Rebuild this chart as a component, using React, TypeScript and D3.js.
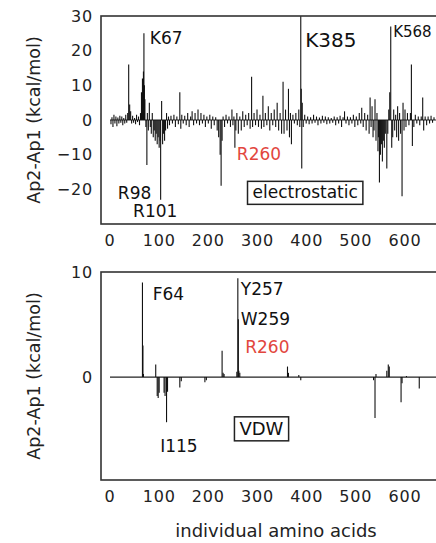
import React, { useEffect, useRef } from 'react';
import * as d3 from 'd3';

// electrostatic contribution per residue [residue, kcal/mol]
const elecBars: [number, number][] = [
  [2,-1.2],[4,0.8],[6,-2],[8,1.5],[10,-1],[12,1],[14,-1.8],[16,0.7],[18,-1],[20,1.2],[22,-0.8],[24,1],
  [26,-1.5],[28,0.6],[30,-1],[32,1.5],[34,-0.8],[36,2],[38,16],[40,4.5],[42,2.5],[44,-1],[46,1.2],[48,-0.8],
  [50,0.6],[52,-1.2],[54,1.5],[56,-0.6],[58,1],[60,-1.5],[62,2],[64,8],[66,12],[68,14],[69,25],[70,10],
  [71,6],[73,-2],[75,-13],[76,2],[78,-3],[80,5],[82,-2],[84,-4],[86,2],[88,-5],[90,-3],[92,-6],[94,-4],
  [96,-7],[98,-5],[100,-8],[102,-6],[103,-23],[105,5.5],[107,-7],[109,-4],[111,-6],[113,-3],[115,2],
  [117,-2.5],[119,1],[121,-1.5],[124,1.2],[127,-1],[130,1.5],[133,-2],[136,1],[139,-1.2],[142,8],[144,-2.5],
  [146,1.5],[149,-1],[152,1.2],[155,-1.5],[158,2],[161,-2],[164,1],[167,2.5],[170,-1.5],[173,2],[176,-1],
  [179,3],[182,-1.5],[185,2],[188,-1],[191,1.5],[194,-2],[197,1],[200,-1],[203,1.5],[206,-2.5],[209,1],
  [212,-1.5],[215,0.8],[218,-3],[221,-5],[224,-10],[226,-19],[228,-6],[230,1],[233,-2],[236,1.5],[239,-1],
  [242,1],[245,-2],[248,3],[250,-1.5],[252,1],[254,-8],[256,-3],[258,2],[261,-4],[264,1],[267,-3],[270,2.5],
  [273,-2],[276,1.5],[279,-1.5],[282,2],[285,-2.5],[288,12.5],[290,-2],[293,2],[296,-1.5],[299,3],[302,-2],
  [305,1.5],[308,-2.5],[311,7],[313,-2],[316,2],[319,-1.5],[322,4],[325,-3],[328,2],[331,-1.5],[334,3],
  [337,-2],[340,5],[343,-3],[346,2],[349,-4],[352,11],[354,-4],[357,3],[360,-3],[363,9],[365,-5],[367,2],
  [369,-7],[372,1.5],[375,-1],[378,2],[381,-1.5],[384,3],[386,-2],[388,30],[389,9],[390,-14],[391,5],
  [393,-2],[396,1.5],[399,-1],[402,1],[405,-1.2],[408,0.8],[411,-1],[414,1.5],[417,-0.8],[420,1],[423,-1.5],
  [426,0.7],[429,-1],[432,1.2],[435,-0.8],[438,1],[441,-1.2],[444,0.8],[447,-1],[450,0.6],[453,-0.8],[456,1],
  [459,-1.5],[462,0.8],[465,-1],[468,1.2],[471,-2],[474,0.8],[477,2.5],[480,-1],[483,1],[486,-1.5],[489,0.8],
  [492,-1],[495,1.5],[498,-2],[501,1],[504,-1.5],[507,2],[510,-1],[512,3.5],[515,-2],[518,2],[521,-3],
  [524,1.5],[527,-4],[529,6.5],[531,-2],[533,4],[535,-5],[537,-3],[539,6],[541,-6],[543,2],[545,-9],[546,-5],
  [548,-18],[550,-10],[552,-7],[554,-12],[556,-6],[558,-8],[560,-4],[563,-14],[565,-4],[567,3],[569,8],
  [571,27],[573,-8],[575,-5],[577,3],[579,-3],[581,1.5],[583,-5],[585,4],[587,-6],[589,2],[591,-4],[594,-22],
  [596,5],[598,-3],[600,3],[602,-2],[605,2],[608,-1.5],[611,2],[613,16],[615,-7.5],[618,-2],[621,1.5],
  [624,-1],[627,1],[630,-1.5],[633,1],[636,6.5],[638,-3],[641,1],[644,-1.5],[647,1],[650,-1],[653,1.2],
  [656,-0.8],[659,0.8],
];

// van der Waals contribution per residue [residue, kcal/mol]
const vdwBars: [number, number][] = [
  [66,9.0],[67,3.0],[68,0.3],[93,1.2],[96,-1.8],[98,-2.0],[100,-1.5],[110,-1.5],[112,-1.8],[115,-4.3],
  [117,-1.4],[142,-1.0],[145,-0.4],[193,-0.5],[196,-0.3],[228,2.5],[230,0.4],[232,0.3],[258,0.5],[260,9.4],
  [261,5.5],[262,0.6],[264,0.4],[361,1.0],[363,0.4],[384,0.2],[388,-0.3],[536,-0.3],[539,-3.9],[541,0.3],
  [563,0.6],[566,1.2],[568,1.0],[592,-2.4],[594,-0.6],[603,0.1],[629,-1.1],
];

const xTicks = [0, 100, 200, 300, 400, 500, 600];
const elecYTicks = [30, 20, 10, 0, -10, -20];
const vdwYTicks = [10, 0];

// residue labels: [text, residue, value, red?, size]
const elecLabels: [string, number, number, boolean, number][] = [
  ['K67', 81, 21.8, false, 17],
  ['K385', 397, 21, false, 20],
  ['K568', 576, 24, false, 15],
  ['R98', 16, -22.9, false, 17],
  ['R101', 47, -28, false, 17],
  ['R260', 258, -11.6, true, 17],
];
const vdwLabels: [string, number, number, boolean, number][] = [
  ['F64', 87, 7.3, false, 17],
  ['Y257', 266, 7.8, false, 17],
  ['W259', 266, 5.0, false, 17],
  ['R260', 275, 2.3, true, 17],
  ['I115', 102, -7.1, false, 17],
];

const FONT = '"DejaVu Sans", Verdana, sans-serif';

export default function App() {
  const svgRef = useRef<SVGSVGElement>(null);

  useEffect(() => {
    const svg = d3.select(svgRef.current);
    svg.selectAll('*').remove();

    const x = d3.scaleLinear().domain([0, 600]).range([110, 405]);
    const left = 101, right = 446;

    const panel = (top: number, bottom: number, domain: [number, number], bars: [number, number][],
      yTicks: number[], labels: [string, number, number, boolean, number][], boxText: string,
      boxAt: [number, number], boxSize: number) => {
      const y = d3.scaleLinear().domain(domain).range([bottom, top]);
      const g = svg.append('g');

      // zero line
      g.append('line')
        .attr('x1', x(0)).attr('x2', right)
        .attr('y1', y(0)).attr('y2', y(0))
        .attr('stroke', '#222').attr('stroke-width', 1.2);

      g.selectAll('line.bar')
        .data(bars)
        .join('line')
        .attr('class', 'bar')
        .attr('x1', d => x(d[0])).attr('x2', d => x(d[0]))
        .attr('y1', y(0)).attr('y2', d => y(Math.min(d[1], domain[1])))
        .attr('stroke', '#111').attr('stroke-width', 1.1);

      // frame
      g.append('rect')
        .attr('x', left).attr('y', top)
        .attr('width', right - left).attr('height', bottom - top)
        .attr('fill', 'none').attr('stroke', '#333').attr('stroke-width', 1.6);

      g.selectAll('text.ytick')
        .data(yTicks)
        .join('text')
        .attr('class', 'ytick')
        .attr('x', 93).attr('y', d => y(d))
        .attr('dy', '0.36em')
        .attr('text-anchor', 'end')
        .attr('font-size', 16).attr('letter-spacing', 0.8)
        .attr('fill', '#222')
        .text(d => (d < 0 ? '\u2212' + Math.abs(d) : String(d)));

      g.selectAll('text.xtick')
        .data(xTicks)
        .join('text')
        .attr('class', 'xtick')
        .attr('x', d => x(d)).attr('y', bottom + 22)
        .attr('text-anchor', 'middle')
        .attr('font-size', 16).attr('letter-spacing', 0.8)
        .attr('fill', '#222')
        .text(d => d);

      g.append('text')
        .attr('transform', `translate(40,${(top + bottom) / 2}) rotate(-90)`)
        .attr('text-anchor', 'middle')
        .attr('font-size', 17.5)
        .attr('fill', '#222')
        .text('Ap2-Ap1 (kcal/mol)');

      g.selectAll('text.lab')
        .data(labels)
        .join('text')
        .attr('class', 'lab')
        .attr('x', d => x(d[1])).attr('y', d => y(d[2]))
        .attr('font-size', d => d[4])
        .attr('fill', d => (d[3] ? '#e2463e' : '#111'))
        .text(d => d[0]);

      const bt = g.append('text')
        .attr('x', x(boxAt[0])).attr('y', y(boxAt[1]))
        .attr('text-anchor', 'middle')
        .attr('font-size', boxSize)
        .attr('fill', '#111')
        .text(boxText);
      const bb = (bt.node() as SVGTextElement).getBBox();
      g.insert('rect', 'text:last-child')
        .attr('x', bb.x - 5).attr('y', bb.y - 1)
        .attr('width', bb.width + 10).attr('height', bb.height + 3)
        .attr('fill', 'white').attr('stroke', '#222').attr('stroke-width', 1.5);
    };

    panel(16, 224, [-30, 30], elecBars, elecYTicks, elecLabels, 'electrostatic', [397, -22.6], 17);
    panel(272, 480, [-9.8, 10], vdwBars, vdwYTicks, vdwLabels, 'VDW', [308, -5.5], 18);

    svg.append('text')
      .attr('x', 276).attr('y', 537)
      .attr('text-anchor', 'middle')
      .attr('font-size', 18)
      .attr('fill', '#222')
      .text('individual amino acids');
  }, []);

  return (
    <svg ref={svgRef} width={436} height={543}
      style={{ position: 'absolute', left: 0, top: 0, fontFamily: FONT, background: 'white' }} />
  );
}
